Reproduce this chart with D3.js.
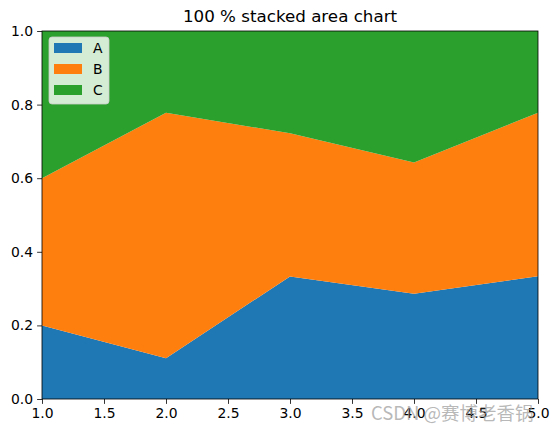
<!DOCTYPE html>
<html>
<head>
<meta charset="utf-8">
<script src="https://cdn.jsdelivr.net/npm/d3@7"></script>
<style>
body { margin: 0; background: #fff; }
text { font-family: "DejaVu Sans", sans-serif; }
</style>
</head>
<body>
<div id="chart"></div>
<script>
// fractions
var xs = [1, 2, 3, 4, 5];
var seriesA = [0.2, 0.111, 0.333, 0.286, 0.333];
var seriesB = [0.4, 0.667, 0.389, 0.357, 0.444];
var seriesC = [0.4, 0.222, 0.278, 0.357, 0.222];
var names = ["A", "B", "C"];
var colors = ["#1f77b4", "#ff7f0e", "#2ca02c"];
var xTicks = [1, 1.5, 2, 2.5, 3, 3.5, 4, 4.5, 5];
var yTicks = [0, 0.2, 0.4, 0.6, 0.8, 1.0];

var W = 558, H = 433;
var m = {left: 42, right: 20, top: 31, bottom: 34};

var svg = d3.select("#chart").append("svg")
    .attr("width", W).attr("height", H);

var x = d3.scaleLinear().domain([1, 5]).range([m.left, W - m.right]);
var y = d3.scaleLinear().domain([0, 1]).range([H - m.bottom, m.top]);

var rows = xs.map(function(d, i) {
  return {x: d, A: seriesA[i], B: seriesB[i], C: seriesC[i]};
});
var stack = d3.stack().keys(names).offset(d3.stackOffsetExpand);
var layers = stack(rows);

var area = d3.area()
    .x(function(d) { return x(d.data.x); })
    .y0(function(d) { return y(d[0]); })
    .y1(function(d) { return y(d[1]); });

svg.selectAll("path.layer")
    .data(layers)
    .enter().append("path")
    .attr("class", "layer")
    .attr("d", area)
    .attr("fill", function(d, i) { return colors[i]; });

// axes
var xAxis = svg.append("g")
    .attr("transform", "translate(0," + (H - m.bottom) + ")")
    .call(d3.axisBottom(x).tickValues(xTicks).tickFormat(d3.format(".1f"))
      .tickSizeInner(4.9).tickSizeOuter(0).tickPadding(4));
var yAxis = svg.append("g")
    .attr("transform", "translate(" + m.left + ",0)")
    .call(d3.axisLeft(y).tickValues(yTicks).tickFormat(d3.format(".1f"))
      .tickSizeInner(4.9).tickSizeOuter(0).tickPadding(4));
[xAxis, yAxis].forEach(function(g) {
  g.select(".domain").remove();
  g.selectAll("line").attr("stroke", "#000").attr("stroke-width", 0.8);
  g.selectAll("text").attr("font-size", "13.9px").attr("fill", "#000")
    .style("font-family", "DejaVu Sans");
});

// frame
svg.append("rect")
    .attr("x", m.left).attr("y", m.top)
    .attr("width", W - m.left - m.right)
    .attr("height", H - m.top - m.bottom)
    .attr("fill", "none").attr("stroke", "#000").attr("stroke-width", 0.8);

// title
svg.append("text")
    .attr("x", (m.left + W - m.right) / 2).attr("y", 22)
    .attr("text-anchor", "middle")
    .attr("font-size", "16.7px")
    .text("100 % stacked area chart");

// legend
var lg = svg.append("g").attr("transform", "translate(49,37)");
lg.append("rect")
    .attr("width", 60).attr("height", 67).attr("rx", 3)
    .attr("fill", "#fff").attr("fill-opacity", 0.8)
    .attr("stroke", "#ccc").attr("stroke-width", 0.8);
names.forEach(function(n, i) {
  lg.append("rect")
      .attr("x", 5).attr("y", 6 + i * 21)
      .attr("width", 28).attr("height", 10)
      .attr("fill", colors[i]);
  lg.append("text")
      .attr("x", 44).attr("y", 16 + i * 21)
      .attr("font-size", "13.9px")
      .text(n);
});

// watermark (overlaps the tick labels, as in the reference)
svg.append("text")
    .attr("x", 371).attr("y", 420)
    .attr("font-size", "18.5px")
    .attr("fill", "#999").attr("fill-opacity", 0.7)
    .style("font-family", "'Noto Sans CJK SC', sans-serif")
    .text("CSDN @赛博老香锅");
</script>
</body>
</html>
